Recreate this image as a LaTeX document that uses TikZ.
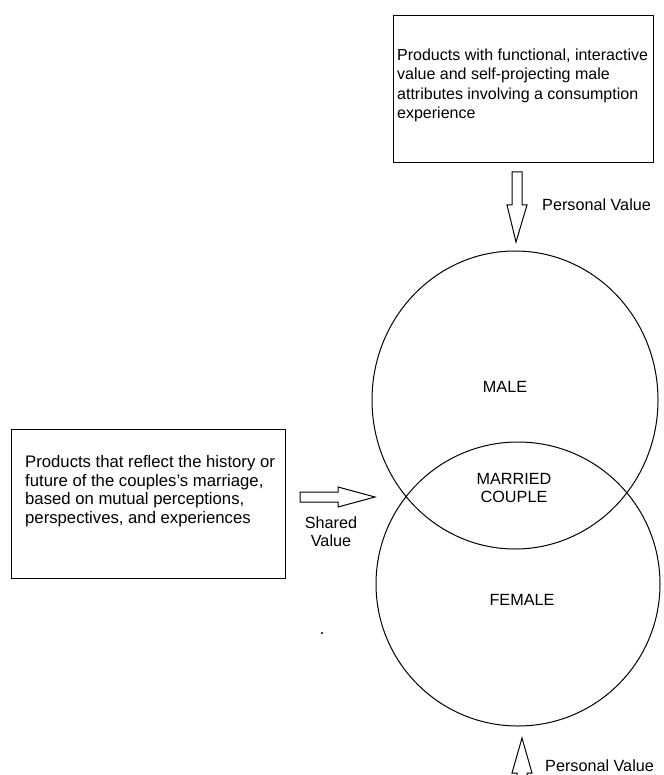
\documentclass[tikz,border=0pt]{standalone}
\usepackage{fontspec}
\setmainfont{Liberation Sans}
\usetikzlibrary{shapes.geometric}
\begin{document}
\begin{tikzpicture}[x=1pt,y=-1pt,
  box/.style={draw, rectangle, line width=1.1pt, inner sep=0pt, anchor=north west},
  txt/.style={align=left, anchor=north west, inner sep=0pt, font=\fontsize{16}{19.4}\selectfont},
  lbl/.style={inner sep=0pt, align=center, font=\fontsize{16.2}{18}\selectfont},
  ring/.style={draw, line width=1pt, inner sep=0pt},
  blk/.style={draw, line width=1pt, line join=miter, fill=white}]
\useasboundingbox (0,0) rectangle (663,775);
\clip (0,0) rectangle (663,775);

% top box
\node[box, minimum width=260pt, minimum height=147pt] (topbox) at (393,15) {};
\node[txt] (toptext) at (397,48.5) {Products with functional, interactive\\value and self-projecting male\\attributes involving a consumption\\experience};

% left box
\node[box, minimum width=274pt, minimum height=149pt] (leftbox) at (11,429) {};
\node[txt, font=\fontsize{16.7}{18.7}\selectfont] (lefttext) at (25,455) {Products that reflect the history or\\future of the couples's marriage,\\based on mutual perceptions,\\perspectives, and experiences};

% circles
\node[ring, ellipse, minimum width=286pt, minimum height=298pt] (male) at (515,400) {};
\node[ring, circle, minimum size=284pt] (female) at (518,584) {};

\node[lbl] (malelbl) at (505,387) {MALE};
\node[lbl] (couplelbl) at (514,488) {MARRIED\\COUPLE};
\node[lbl] (femalelbl) at (522,600) {FEMALE};

% top block arrow
\coordinate (toptip) at (516,242);
\draw[blk] (toptip) -- ++(11,-37) -- ++(-5,0) -- ++(0,-33) -- ++(-10,0) -- ++(0,33) -- ++(-5,0) -- cycle;
\node[lbl, anchor=base west] (pvtop) at (542,211) {Personal Value};

% left block arrow
\coordinate (lefttip) at (375,497);
\draw[blk] (lefttip) -- ++(-37,-10) -- ++(0,5) -- ++(-38,0) -- ++(0,10) -- ++(38,0) -- ++(0,5) -- cycle;
\node[lbl] (shared) at (331,531.5) {Shared\\Value};

% bottom block arrow
\coordinate (bottip) at (522,738);
\draw[blk] (bottip) -- ++(10,35) -- ++(-5,0) -- ++(0,30) -- ++(-10,0) -- ++(0,-30) -- ++(-5,0) -- cycle;
\node[lbl, anchor=base west] (pvbot) at (545,771) {Personal Value};

% speck
\fill (322,633) circle [radius=1.2pt];
\end{tikzpicture}
\end{document}
